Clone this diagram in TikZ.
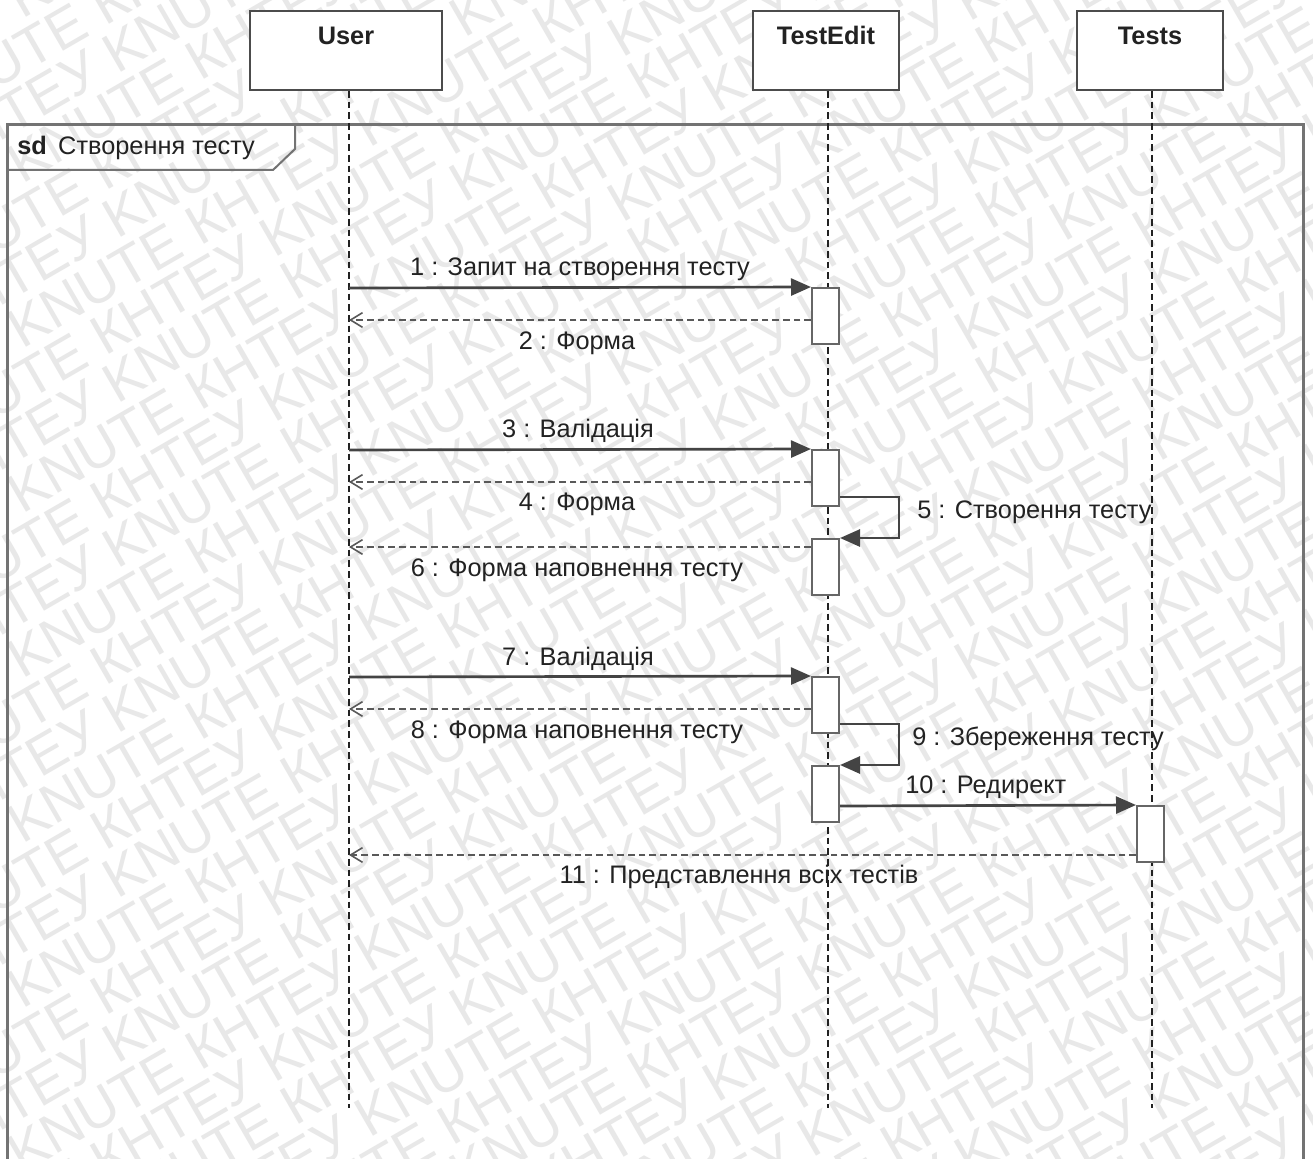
\documentclass[tikz,border=0pt]{standalone}
\usepackage{fontspec}
\setmainfont{Liberation Sans}
\usetikzlibrary{arrows.meta,fit,calc}
\definecolor{ink}{HTML}{222222}
\definecolor{msgline}{HTML}{444444}
\begin{document}
\begin{tikzpicture}[x=0.75pt,y=-0.75pt,
  wm/.style={text=black!9, font=\fontsize{42}{42}\selectfont, inner sep=0},
  head/.style={draw=black!70, line width=1.5pt, fill=white, inner sep=0},
  headtxt/.style={font=\bfseries\fontsize{19}{19}\selectfont, text=ink, anchor=base, inner sep=0},
  act/.style={draw=black!60, line width=1.5pt, fill=white, inner sep=0},
  life/.style={draw=ink, line width=1.5pt, dash pattern=on 5pt off 3pt},
  msg/.style={draw=msgline, line width=2pt, -{Triangle[length=15pt,width=12.75pt]}},
  ret/.style={draw=black!65, line width=1.5pt, dash pattern=on 5pt off 3pt,
    -{Straight Barb[length=9pt,width=11pt,line width=1.2pt]}},
  lbl/.style={font=\fontsize{19}{19}\selectfont, text=ink, inner sep=0},
  framestyle/.style={draw=black!55, line width=2.25pt}]

\useasboundingbox (0,0) rectangle (1313,1159);
\fill[white] (0,0) rectangle (1313,1159);

% background watermark rows
\begin{scope}
  \clip (0,0) rectangle (1313,1159);
  \foreach \i in {0,...,40} {
    \pgfmathsetmacro{\wx}{-420 + 95*mod(\i,3)}
    \node[wm, anchor=base west, rotate=30] (wm\i) at (\wx, 55*\i)
      {KNUTE КНТЕУ KNUTE КНТЕУ KNUTE КНТЕУ KNUTE КНТЕУ KNUTE КНТЕУ KNUTE};
  }
\end{scope}

% sequence frame with its title tab
\begin{scope}
  \clip (0,0) rectangle (1313,1159);
  \draw[framestyle] (7,1190) -- (7,125) -- (1303,125) -- (1303,1190);
  \draw[draw=black!55, line width=1.5pt] (7,170) -- (273,170) -- (295,149) -- (295,125);
\end{scope}
\node[lbl, anchor=base west] (sdtitle) at (17,155)
  {\textbf{sd}\hspace{0.45em}Створення тесту};

% lifeline heads
\node[head, fit={(250,11) (442,90)}] (user) {};
\node[head, fit={(753,11) (899,90)}] (edit) {};
\node[head, fit={(1077,11) (1223,90)}] (tests) {};
\node[headtxt] (userT) at (346,45) {User};
\node[headtxt] (editT) at (826,45) {TestEdit};
\node[headtxt] (testsT) at (1150,45) {Tests};

% lifelines
\coordinate (uEnd) at (349,1108);
\coordinate (eEnd) at (828,1108);
\coordinate (tEnd) at (1152,1108);
\draw[life] (uEnd |- user.south) -- (uEnd);
\draw[life] (eEnd |- edit.south) -- (eEnd);
\draw[life] (tEnd |- tests.south) -- (tEnd);

% activation bars
\node[act, fit={(812,288) (839,344)}] (a1) {};
\node[act, fit={(812,450) (839,506)}] (a2) {};
\node[act, fit={(812,539) (839,595)}] (a3) {};
\node[act, fit={(812,677) (839,733)}] (a4) {};
\node[act, fit={(812,766) (839,822)}] (a5) {};
\node[act, fit={(1137,806) (1164,862)}] (t1) {};

% message anchors on the User lifeline
\coordinate (m1) at (349,288);
\coordinate (r2) at (349,320);
\coordinate (m3) at (349,450);
\coordinate (r4) at (349,482);
\coordinate (r6) at (349,547);
\coordinate (m7) at (349,677);
\coordinate (r8) at (349,709);
\coordinate (r11) at (349,855);
\coordinate (s5) at (899,497);
\coordinate (s9) at (899,724);
\coordinate (m10) at (839,806);

% messages
\draw[msg] (m1) -- (a1.north west);
\draw[ret] (r2 -| a1.west) -- (r2);
\draw[msg] (m3) -- (a2.north west);
\draw[ret] (r4 -| a2.west) -- (r4);
\draw[msg] (s5 -| a2.east) -- (s5) |- (a3.north east);
\draw[ret] (r6 -| a3.west) -- (r6);
\draw[msg] (m7) -- (a4.north west);
\draw[ret] (r8 -| a4.west) -- (r8);
\draw[msg] (s9 -| a4.east) -- (s9) |- (a5.north east);
\draw[msg] (m10 -| a5.east) -- (t1.north west);
\draw[ret] (r11 -| t1.west) -- (r11);

% message labels
\node[lbl, anchor=base] (l1) at (580,275) {1 : Запит на створення тесту};
\node[lbl, anchor=base] (l2) at (577,349) {2 : Форма};
\node[lbl, anchor=base] (l3) at (578,437) {3 : Валідація};
\node[lbl, anchor=base] (l4) at (577,510) {4 : Форма};
\node[lbl, anchor=base west] (l5) at (917,518) {5 : Створення тесту};
\node[lbl, anchor=base] (l6) at (577,576) {6 : Форма наповнення тесту};
\node[lbl, anchor=base] (l7) at (578,665) {7 : Валідація};
\node[lbl, anchor=base] (l8) at (577,738) {8 : Форма наповнення тесту};
\node[lbl, anchor=base west] (l9) at (912,745) {9 : Збереження тесту};
\node[lbl, anchor=base west] (l10) at (905,793) {10 : Редирект};
\node[lbl, anchor=base] (l11) at (739,883) {11 : Представлення всіх тестів};
\end{tikzpicture}
\end{document}
